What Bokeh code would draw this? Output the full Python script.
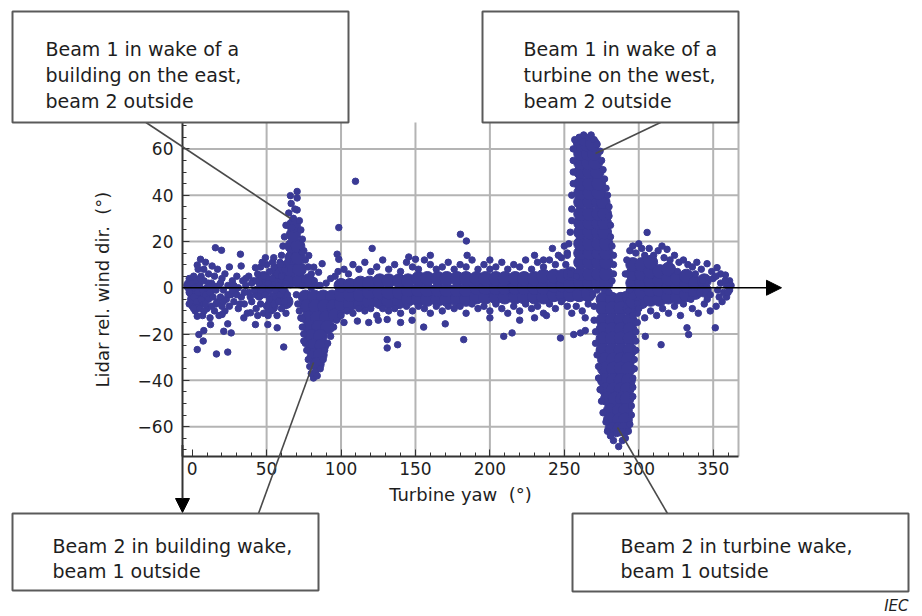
from bokeh.plotting import figure
from bokeh.models import (SingleIntervalTicker, BoxAnnotation, Arrow, NormalHead, Label, Range1d)
from bokeh.embed import file_html
from bokeh.resources import INLINE

# ---------------- data ----------------
# dense cores of the point cloud (turbine yaw deg, lidar rel. wind dir deg)
core_west = [(1, -2), (6, -3), (3, -6), (10, -2), (-1, 1), (50, 0), (56, 3), (60, -2), (55, -5),
             (62, 4), (45, -2), (48, 4), (53, -8), (58, 7), (63, -6)]
core_building_up = [(66, 3), (72, 3), (78, 3), (66, 8), (72, 8), (67, 13), (71, 13),
                    (67, 18), (71, 18), (68, 23), (68, 27)]
core_building_down = [(76, -4), (82, -4), (88, -4), (94, -4), (77, -8), (83, -8), (89, -8),
                      (95, -8), (78, -13), (84, -13), (90, -13), (96, -12), (79, -17),
                      (85, -17), (91, -17), (80, -21), (86, -21), (81, -25), (87, -25),
                      (82, -29), (86, -29), (84, -33)]
core_band = [(100, -7), (100, -3), (100, 1), (106, -7), (106, -3), (106, 1),
             (113, -7), (113, -3), (113, 2), (119, -6), (119, -2), (119, 2),
             (126, -6), (126, -2), (126, 3), (132, -6), (132, -2), (132, 3),
             (139, -6), (139, -2), (139, 3), (145, -5), (145, -1), (145, 3),
             (152, -5), (152, -1), (152, 4), (158, -5), (158, -1), (158, 4),
             (165, -5), (165, -1), (165, 4), (171, -5), (171, -1), (171, 4),
             (178, -5), (178, -1), (178, 4), (184, -5), (184, -1), (184, 4),
             (191, -4), (191, 0), (191, 4), (197, -4), (197, 0), (197, 4),
             (204, -4), (204, 0), (204, 4), (210, -4), (210, 0), (210, 4),
             (217, -4), (217, 0), (217, 4), (223, -4), (223, 0), (223, 4),
             (230, -4), (230, 0), (230, 4), (236, -4), (236, 0), (236, 5),
             (243, -3), (243, 1), (243, 5), (249, -3), (249, 1), (249, 5),
             (254, -3), (254, 1), (254, 6), (260, -3), (266, -3)]
core_turbine_up = [(261, 2), (267, 2), (273, 2), (278, 2), (261, 6), (267, 6), (273, 6), (278, 6),
                   (261, 11), (267, 11), (273, 11), (278, 11), (261, 15), (267, 15), (273, 15), (278, 15),
                   (261, 19), (267, 19), (273, 19), (278, 19), (261, 24), (267, 24), (273, 24), (277, 24),
                   (261, 28), (267, 28), (273, 28), (277, 28), (261, 32), (267, 32), (273, 32), (277, 32),
                   (261, 37), (267, 37), (273, 37), (276, 37), (261, 41), (267, 41), (273, 41),
                   (261, 45), (267, 45), (273, 45), (261, 50), (267, 50), (272, 50),
                   (261, 54), (266, 54), (271, 54), (261, 58), (266, 58), (270, 58),
                   (261, 62), (265, 62), (269, 62)]
core_turbine_down = [(276, -5), (282, -5), (288, -5), (294, -5), (276, -9), (282, -9), (288, -9), (294, -9),
                     (276, -14), (282, -14), (288, -14), (294, -14), (276, -18), (282, -18), (288, -18), (294, -18),
                     (276, -22), (282, -22), (288, -22), (294, -22), (276, -27), (282, -27), (288, -27), (294, -27),
                     (277, -31), (283, -31), (288, -31), (293, -31), (277, -35), (283, -35), (288, -35), (293, -35),
                     (277, -40), (283, -40), (288, -40), (293, -40), (278, -44), (283, -44), (288, -44), (292, -44),
                     (279, -48), (284, -48), (289, -48), (292, -48), (281, -53), (287, -53), (291, -53),
                     (281, -57), (287, -57), (291, -57), (282, -61), (287, -61), (290, -61)]
core_east = [(296, -6), (296, -2), (296, 2), (296, 6), (296, 10), (302, -6), (302, -2), (302, 2), (302, 6),
             (302, 10), (308, -5), (308, -1), (308, 3), (308, 7), (308, 11), (314, -5), (314, -1), (314, 3),
             (314, 7), (320, -4), (320, 0), (320, 4), (320, 8), (326, -4), (326, 0), (326, 4),
             (332, -3), (332, 1), (332, 5), (338, -2), (338, 2), (344, -1), (344, 3)]

# scattered / edge points
pts_west = [(-3, 1), (-2, -2), (-2, 4), (-1, -5), (0, 2), (0, -8), (1, 5), (1, -4), (2, 0), (2, -10),
            (3, 3), (3, -6), (4, -2), (4, 8), (5, -9), (5, 1), (6, -5), (6, 5), (7, -1), (7, -12),
            (8, 3), (8, -7), (9, -3), (9, 11), (10, 0), (10, -9), (11, 6), (11, -5), (12, -2), (12, -13),
            (13, 2), (13, -8), (14, -4), (15, 5), (15, -10), (16, -1), (17, -6), (17, 8), (18, 1), (18, -12),
            (19, -4), (20, 4), (20, -8), (21, -1), (22, -10), (22, 6), (23, -5), (24, 1), (25, -8), (25, 9),
            (26, -3), (27, 3), (28, -6), (29, -1), (30, 5), (31, -9), (31, 0), (33, -4), (34, 3), (35, -7),
            (36, 1), (37, -11), (38, 5), (38, -2), (40, -6), (41, 3), (42, -1), (43, -9), (44, 6), (45, -4),
            (45, 2), (46, 9), (46, -7), (47, 0), (48, -11), (48, 5), (49, -3), (50, 10), (50, -8), (51, 2),
            (52, -5), (52, 7), (53, -10), (53, 0), (54, 4), (55, -7), (55, 9), (56, -1), (57, 6), (57, -12),
            (58, 1), (58, -6), (59, 11), (59, -3), (60, 5), (60, -9), (61, -1), (62, 8), (62, -6), (63, 2),
            (63, -11), (64, -3),
            (14, 1), (16, -7), (19, 2), (21, -6), (24, -3), (27, -1), (28, 1), (30, -3), (32, -7), (35, -2),
            (36, 4), (39, -4), (40, 2), (43, 3), (9, -7), (11, 2), (5, 4), (-2, -7), (1, -9), (8, -10),
            (44, -12), (47, 11), (51, -12), (54, 11), (61, 10), (64, 11),
            (3.4, -12.3), (4.5, -20.2), (3.4, -26.7), (7.4, -23), (7.8, -18.5), (16.3, -28.6), (23.9, -27.8),
            (21.2, -18.8), (26.2, -19.5), (23.9, -15.6), (12.3, -15.9), (20.1, -11.5), (34.7, -13),
            (42.5, -15.9), (50.8, -15.9), (57.1, -17.3), (61.5, -25.6), (39.2, -10.8), (15.6, 17.3),
            (19.7, 16.2), (32.4, 14.5), (32.9, 9.4), (5.6, 12.3), (3.4, 9.8), (13.4, 9.4), (7.8, 8),
            (49.2, 13), (54.8, 13), (42.5, 8.7)]
pts_building_up = [(66, 39.8), (70.5, 41.6), (70.5, 38.8), (66.5, 36.4), (70.5, 33.6), (64.9, 32.3),
                   (68, 30), (72, 29), (63, 27), (73, 25), (62, 22), (74, 21), (61, 18), (75, 16), (60, 14),
                   (76, 12), (59, 10), (78, 9), (80, 6), (82, 3), (84, 1), (73.9, 15.3), (78.3, 13.9),
                   (81.7, 8.9), (84.9, 6.7), (69, 34), (67, 26), (87.3, 10.4)]
pts_building_down = [(81.5, -39), (80, -37), (83, -36), (79, -34), (86, -35), (78, -31), (88, -31),
                     (77, -27), (89, -27), (76, -24), (91, -24), (75, -20), (93, -21), (74, -17), (95, -17),
                     (73, -13), (97, -14), (72, -10), (100, -11), (71, -7), (70, -3), (75, -23),
                     (73.9, -13.3), (84, -38), (90, 2), (93, 4), (96, 5), (86, 1), (80, 0), (74, 1)]
pts_band = [(98, 7), (102, 8), (105, 6), (108, 10), (112, 8), (116, 11), (120, 7), (124, 9), (128, 12),
            (132, 8), (136, 10), (140, 7), (144, 11), (148, 9), (152, 8), (156, 12), (160, 10), (164, 8),
            (168, 9), (172, 11), (176, 8), (180, 10), (184, 9), (188, 12), (192, 8), (196, 10), (200, 8),
            (204, 9), (208, 11), (212, 8), (216, 10), (220, 9), (224, 12), (228, 8), (232, 11), (236, 9),
            (240, 12), (244, 10), (248, 13), (252, 15), (250, 18), (246, 14), (242, 17),
            (100, -12), (104, -10), (108, -11), (112, -9), (116, -10), (120, -9), (124, -12), (128, -9),
            (132, -10), (136, -9), (140, -11), (144, -8), (148, -10), (152, -8), (156, -9), (160, -11),
            (164, -8), (168, -10), (172, -8), (176, -9), (180, -8), (184, -11), (188, -7), (192, -9),
            (196, -8), (200, -10), (204, -7), (208, -9), (212, -11), (216, -8), (220, -10), (224, -7),
            (228, -9), (232, -8), (236, -11), (240, -7), (244, -9), (248, -6), (252, -8),
            (258, -8), (262, -10), (266, -7), (255, -11), (264, -13),
            (98.5, 26), (109.7, 46), (97.4, 14.5), (98.5, 12.3), (120.9, 17), (145.5, 13.3), (150, 12.3),
            (180.2, 23.1), (184.2, 20.2), (184.7, 14), (131, -22.4), (131, -26), (138, -24.6), (102, -15),
            (111, -14.4), (118.6, -15), (131, -13.7), (140, -15), (147.7, -14), (155.5, -17), (170, -15.6),
            (182.4, -22.4), (209.3, -21), (214.9, -19.5), (247.4, -21.7), (200, -13), (220, -14), (230, -13),
            (238, -12), (256.3, -20.2), (260.8, -19.5), (264.1, -18.5), (230, 14), (236, 12), (160, 14),
            (200, 12), (125, -14)]
pts_turbine_up = [(251, 10), (252, 14), (253, 19), (254, 24), (255, 29), (255, 34), (255, 40), (256, 45),
                  (256, 50), (256, 55), (256, 60), (258, 63), (260, 65), (263, 66), (266, 65), (268, 66),
                  (270, 64), (272, 62), (274, 59), (275, 55), (276, 51), (277, 47), (278, 43), (279, 40),
                  (280, 35), (280, 31), (281, 27), (281, 22), (282, 18), (283, 14), (283, 10), (283, 6),
                  (282, 3), (257, 64), (262, 63), (258, 5), (254, 6)]
pts_turbine_down = [(270, -8), (270, -14), (271, -19), (271, -24), (272, -29), (273, -34), (273, -39),
                    (274, -44), (275, -49), (276, -54), (278, -58), (279, -62), (281, -64), (283, -66),
                    (286.5, -68.6), (289, -66), (291, -65), (293, -62), (294, -59), (295, -55), (295, -51),
                    (296, -47), (296, -43), (296, -39), (297, -35), (297, -31), (298, -27), (298, -23),
                    (298, -19), (299, -15), (299, -11), (299, -7), (269, -3), (272, -1), (277, -1), (280, -2),
                    (291, -3), (294, -1), (285, -63), (288, -62)]
pts_east = [(291, 6), (292, 12), (294, 16), (296, 18), (298, 15), (300, 19), (302, 17), (305.6, 23.9),
            (304, 14), (307, 17), (310, 14), (313, 16), (315.6, 18), (319, 16.6), (317, 13), (321, 12),
            (324, 14), (327, 11), (330, 12), (333, 10), (336, 9), (339, 11), (342, 8), (345.9, 10.4),
            (349, 7), (352.6, 8.7), (355, 6), (358.2, 5.5), (361, 3),
            (293, -10), (296, -12), (300, -9), (304, -13), (304.4, -21), (308, -10), (312, -12),
            (315, -24.6), (316, -9), (320, -11), (324, -8), (328, -12), (332.4, -17.3), (333.5, -20.2),
            (336, -9), (340, -11), (344, -7), (348, -10), (351.4, -17.3), (352, -8), (356, -6), (359, -4),
            (361, -1), (362, 1),
            (345, 2), (348, -3), (350, 4), (353, -1), (355, 2), (357, -2), (359, 1), (352, 5), (346, -5),
            (343, 3), (341, -2), (354, -4), (358, 3), (360, -2), (338, 6), (335, -5), (330, -7), (326, 7)]

x_grid = [50, 100, 150, 200, 250, 300, 350]
y_grid = [-60, -40, -20, 20, 40, 60]
neg_labels = {-20: "\u221220", -40: "\u221240", -60: "\u221260"}

notes = [
    ["Beam 1 in wake of a", "building on the east,", "beam 2 outside"],
    ["Beam 1 in wake of a", "turbine on the west,", "beam 2 outside"],
    ["Beam 2 in building wake,", "beam 1 outside"],
    ["Beam 2 in turbine wake,", "beam 1 outside"],
]

# ---------------- layout (canvas pixels) ----------------
W, H = 922, 616
L, R, T, B = 182, 738, 122, 456          # plot area inside the canvas
X0, X1 = -6.5, 367.0                      # data limits of the plot area
Y0, Y1 = -72.9, 71.4


def dx(px):
    return X0 + (px - L) * (X1 - X0) / (R - L)


def dy(py):
    return Y1 - (py - T) * (Y1 - Y0) / (B - T)


BLUE = "#3a3a95"
FONT = "DejaVu Sans"
TXT = "#1e1e1e"
GRID = "#b4b4b4"

# the frame covers the whole canvas so that callouts outside the plot area are drawn
p = figure(width=W, height=H, output_backend="svg", toolbar_location=None,
           x_range=Range1d(dx(0), dx(W)), y_range=Range1d(dy(H), dy(0)),
           min_border=0, min_border_left=0, min_border_right=0, min_border_top=0, min_border_bottom=0)
p.title.visible = False
p.background_fill_color = "white"
p.border_fill_color = "white"
p.outline_line_color = None
p.xgrid.visible = False
p.ygrid.visible = False

# grid lines of the plot area
p.segment(x0=x_grid, y0=[Y0] * len(x_grid), x1=x_grid, y1=[Y1] * len(x_grid),
          line_color=GRID, line_width=2)
p.segment(x0=[X0] * len(y_grid), y0=y_grid, x1=[X1] * len(y_grid), y1=y_grid,
          line_color=GRID, line_width=2)
p.segment(x0=[X1], y0=[Y0], x1=[X1], y1=[Y1], line_color=GRID, line_width=2)

# axes, pinned to the plot-area edges
p.xaxis.fixed_location = Y0
p.yaxis.fixed_location = X0
p.xaxis.bounds = (X0, X1)
p.yaxis.bounds = (Y0, Y1)
p.xaxis.ticker = SingleIntervalTicker(interval=50, num_minor_ticks=5)
p.yaxis.ticker = SingleIntervalTicker(interval=20, num_minor_ticks=4)
p.yaxis.major_label_overrides = neg_labels
for ax in (p.xaxis[0], p.yaxis[0]):
    ax.axis_line_color = "#333333"
    ax.axis_line_width = 2
    ax.major_tick_line_color = "#333333"
    ax.minor_tick_line_color = "#333333"
    ax.major_tick_in = 7
    ax.major_tick_out = 0
    ax.minor_tick_in = 4
    ax.minor_tick_out = 0
    ax.major_label_text_font = FONT
    ax.major_label_text_font_size = "17px"
    ax.major_label_text_color = TXT
    ax.axis_label_text_font = FONT
    ax.axis_label_text_font_size = "18px"
    ax.axis_label_text_font_style = "normal"
    ax.axis_label_text_color = TXT
p.xaxis.axis_label = "Turbine yaw\u00a0 (\u00b0)"
p.yaxis.axis_label = "Lidar rel. wind dir.\u00a0 (\u00b0)"
p.xaxis.major_label_standoff = 5
p.yaxis.major_label_standoff = 9
p.xaxis.axis_label_standoff = 6
p.yaxis.axis_label_standoff = 22

# points
cores = core_west + core_building_up + core_building_down + core_band + core_turbine_up + \
    core_turbine_down + core_east
edges = pts_west + pts_building_up + pts_building_down + pts_band + pts_turbine_up + \
    pts_turbine_down + pts_east
cx, cy = zip(*cores)
ex, ey = zip(*edges)
p.scatter(list(cx), list(cy), marker="circle", size=14, color=BLUE)
p.scatter(list(ex), list(ey), marker="circle", size=6.5, color=BLUE)

# arrows along the axes
p.add_layout(Arrow(x_start=X0, y_start=0, x_end=dx(781), y_end=0, line_color="black", line_width=1.5,
                   end=NormalHead(size=15, fill_color="black", line_color="black")))
p.add_layout(Arrow(x_start=X0, y_start=Y0 + 5, x_end=X0, y_end=dy(512), line_color="#333333",
                   line_width=2, end=NormalHead(size=14, fill_color="black", line_color="black")))

# leader lines
for (a, b, c, d) in [(145.5, 122, 290, 218), (660, 122, 595, 153), (258, 513, 313, 362), (667, 513, 617, 427)]:
    p.add_layout(Arrow(x_start=dx(a), y_start=dy(b), x_end=dx(c), y_end=dy(d), end=None,
                       line_color="#4a4a4a", line_width=1.6))

# callout boxes
boxes = [(12, 11, 348, 122), (482, 11, 738, 122), (12, 513, 318, 590), (572, 513, 908, 591)]
for (l, t, r, b) in boxes:
    p.add_layout(BoxAnnotation(left=dx(l), right=dx(r), top=dy(t), bottom=dy(b),
                               fill_color="white", fill_alpha=1.0, line_color="#5a5a5a",
                               line_width=2, line_alpha=1.0))

text_pos = [(45, [48.3, 74.5, 100]), (523, [48.3, 74.5, 100]), (52, [545, 570]), (620, [545, 570])]
for (lx, bases), lines in zip(text_pos, notes):
    for by, s in zip(bases, lines):
        p.add_layout(Label(x=dx(lx), y=dy(by), text=s, text_font=FONT, text_font_size="19px",
                           text_color=TXT, text_baseline="alphabetic", text_align="left"))

p.add_layout(Label(x=dx(908), y=dy(605), text="IEC", text_font=FONT, text_font_size="15px",
                   text_font_style="italic", text_color=TXT, text_baseline="alphabetic",
                   text_align="right"))

open("out.html", "w").write(file_html(p, INLINE))
